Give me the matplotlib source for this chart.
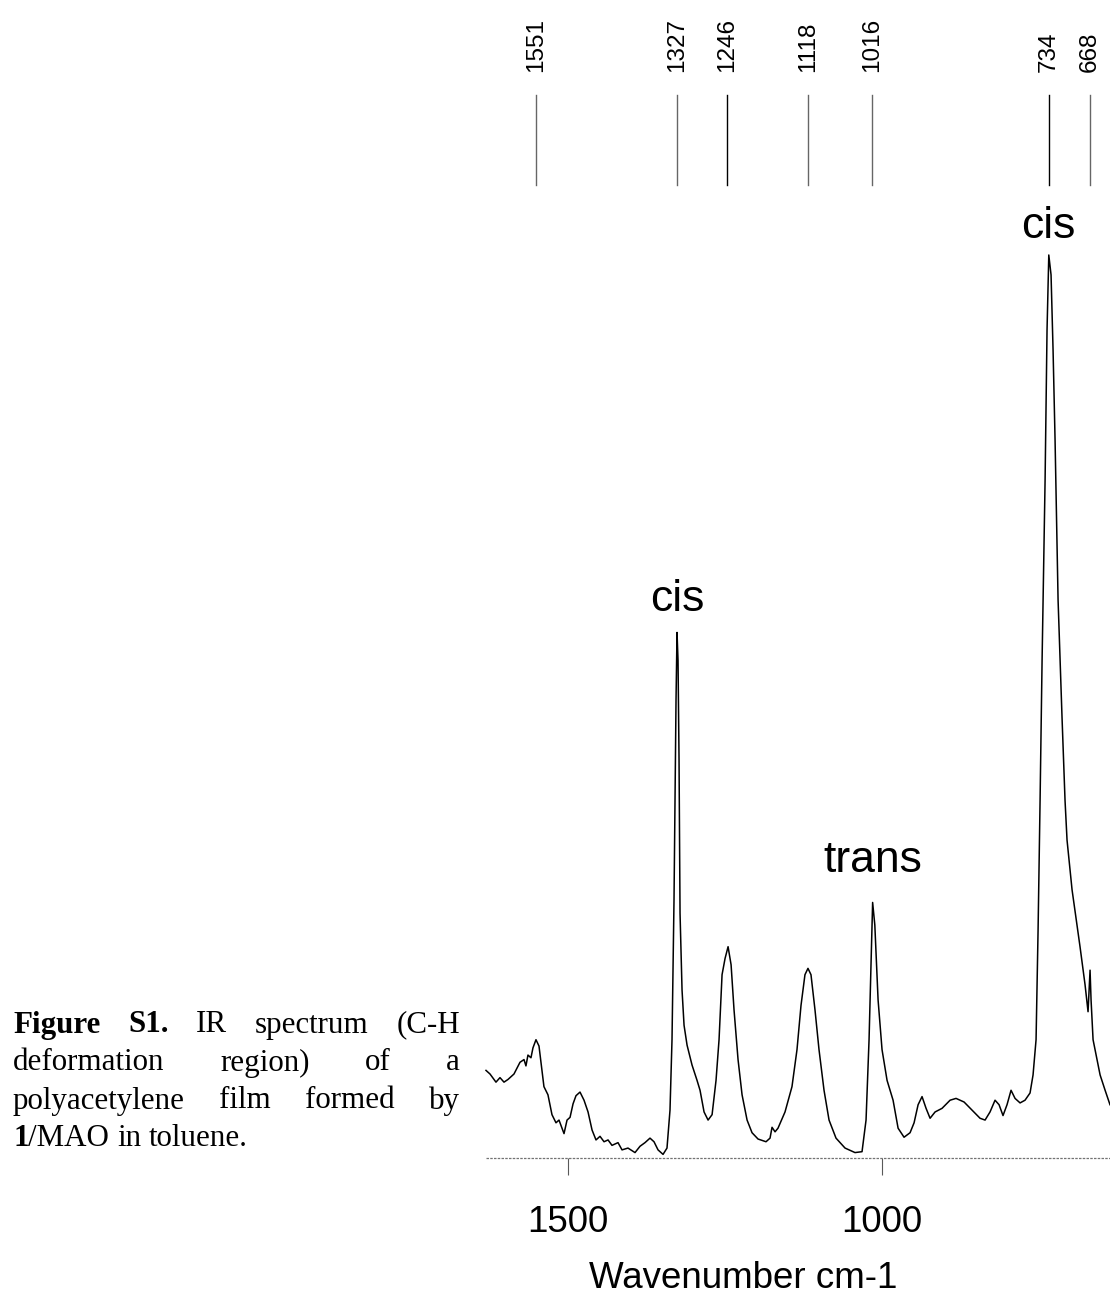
import matplotlib
matplotlib.use("Agg")
import matplotlib.pyplot as plt
import numpy as np

# ---- data ----
wavenumber = [1631.0, 1624.6, 1615.1, 1608.7, 1602.3, 1595.9, 1586.4, 1576.8, 1570.4, 1567.3,
              1564.1, 1559.3, 1556.1, 1551.3, 1546.5, 1541.7, 1538.6, 1532.2, 1525.8, 1519.4,
              1514.6, 1509.8, 1506.6, 1501.8, 1497.0, 1492.2, 1487.5, 1481.1, 1474.7, 1468.3,
              1461.9, 1455.6, 1449.2, 1442.8, 1436.4, 1430.1, 1420.5, 1414.1, 1404.6, 1393.4,
              1385.4, 1377.5, 1369.5, 1363.1, 1356.7, 1348.7, 1342.4, 1337.6, 1334.4, 1331.2,
              1328.0, 1326.4, 1324.8, 1323.2, 1321.6, 1318.4, 1315.2, 1310.4, 1302.5, 1294.5,
              1289.7, 1283.3, 1276.9, 1270.5, 1264.2, 1259.4, 1254.6, 1249.8, 1245.0, 1240.2,
              1235.5, 1229.1, 1222.7, 1214.7, 1206.8, 1197.2, 1184.5, 1178.1, 1174.9, 1170.1,
              1165.4, 1154.2, 1143.1, 1135.1, 1128.7, 1122.4, 1117.6, 1112.8, 1106.4, 1100.0,
              1092.0, 1084.0, 1072.9, 1058.5, 1042.6, 1031.4, 1025.0, 1020.2, 1017.0, 1014.5,
              1011.0, 1005.8, 999.5, 991.5, 986.7, 981.9, 973.9, 964.4, 954.8, 948.4,
              942.0, 935.7, 929.3, 922.9, 914.9, 903.8, 891.0, 881.5, 868.7, 856.0,
              843.2, 835.2, 827.3, 819.3, 812.9, 806.6, 800.2, 793.8, 787.4, 779.4,
              771.5, 763.5, 758.7, 753.9, 750.7, 747.5, 744.3, 739.5, 736.4, 733.6,
              730.0, 726.8, 723.6, 718.8, 712.5, 707.7, 704.5, 696.5, 683.8, 675.8,
              671.0, 667.8, 666.2, 663.0, 656.6, 651.8, 643.8, 636.0]
absorbance = [0.097, 0.093, 0.084, 0.089, 0.084, 0.087, 0.093, 0.106, 0.109, 0.102,
              0.114, 0.111, 0.122, 0.131, 0.124, 0.097, 0.079, 0.070, 0.048, 0.039,
              0.042, 0.033, 0.027, 0.042, 0.045, 0.060, 0.069, 0.073, 0.064, 0.051,
              0.031, 0.020, 0.024, 0.018, 0.020, 0.014, 0.017, 0.009, 0.011, 0.006,
              0.013, 0.017, 0.022, 0.018, 0.009, 0.004, 0.011, 0.053, 0.131, 0.286,
              0.507, 0.582, 0.551, 0.441, 0.271, 0.186, 0.147, 0.125, 0.103, 0.086,
              0.075, 0.051, 0.042, 0.048, 0.086, 0.131, 0.203, 0.221, 0.234, 0.214,
              0.164, 0.109, 0.070, 0.042, 0.028, 0.021, 0.018, 0.022, 0.034, 0.029,
              0.033, 0.051, 0.079, 0.120, 0.169, 0.203, 0.210, 0.203, 0.164, 0.120,
              0.075, 0.042, 0.022, 0.011, 0.006, 0.007, 0.042, 0.131, 0.219, 0.283,
              0.258, 0.175, 0.120, 0.086, 0.075, 0.064, 0.033, 0.023, 0.028, 0.039,
              0.059, 0.068, 0.055, 0.044, 0.051, 0.055, 0.064, 0.066, 0.062, 0.053,
              0.044, 0.042, 0.051, 0.064, 0.059, 0.047, 0.059, 0.075, 0.066, 0.061,
              0.064, 0.072, 0.092, 0.131, 0.252, 0.396, 0.551, 0.751, 0.917, 1.000,
              0.978, 0.895, 0.795, 0.618, 0.488, 0.396, 0.352, 0.297, 0.234, 0.192,
              0.162, 0.208, 0.175, 0.131, 0.109, 0.092, 0.075, 0.059]

peak_marks = [1551, 1327, 1246, 1118, 1016, 734, 668]
peak_labels = ["cis", "cis", "trans"]
peak_label_x = [733.6, 1326.4, 1014.5]
peak_label_y = [1.032, 0.618, 0.330]
xticks = [1500, 1000]
xtick_labels = ["1500", "1000"]
x_range = (1631, 636)

caption_lines = [
    [("Figure", True, True), ("S1.", True, True), ("IR", False, True), ("spectrum", False, True), ("(C-H", False, True)],
    [("deformation", False, True), ("region)", False, True), ("of", False, True), ("a", False, True)],
    [("polyacetylene", False, True), ("film", False, True), ("formed", False, True), ("by", False, True)],
    [("1", True, False), ("/MAO", False, True), ("in", False, True), ("toluene.", False, True)],
]

# ---- figure ----
W, H = 1110, 1297
fig = plt.figure(figsize=(W / 100, H / 100), dpi=100)
fig.patch.set_facecolor("white")

ax_left, ax_right, ax_bot, ax_top = 486, 1110, 1158, 200
ax = fig.add_axes([ax_left / W, 1 - ax_bot / H, (ax_right - ax_left) / W, (ax_bot - ax_top) / H])
ax.set_facecolor("none")
ax.plot(wavenumber, absorbance, color="black", lw=1.1, clip_on=False)
ax.set_xlim(*x_range)
ax.set_ylim(0, (ax_bot - ax_top) / 903.0)
for s in ax.spines.values():
    s.set_visible(False)
ax.axhline(0, color="0.45", lw=0.9, ls=(0, (2, 1)), clip_on=False)
ax.set_yticks([])
ax.set_xticks(xticks)
ax.set_xticklabels(xtick_labels, family="Liberation Sans", fontsize=26.5)
ax.tick_params(axis="x", direction="out", length=12, width=0.8, color="0.35", pad=22)
ax.set_xlabel("Wavenumber cm-1", family="Liberation Sans", fontsize=26.5, labelpad=20)
ax.xaxis.set_label_coords((743 - ax_left) / (ax_right - ax_left), -(1278 - ax_bot) / (ax_bot - ax_top))
ax.xaxis.label.set_va("center")

# peak labels (cis / trans)
for lab, xv, yv in zip(peak_labels, peak_label_x, peak_label_y):
    ax.text(xv, yv, lab, family="Liberation Sans", fontsize=32, ha="center", va="center", clip_on=False)

# top wavenumber marks
trans = ax.get_xaxis_transform()
hpx = ax_bot - ax_top
for i, wv in enumerate(peak_marks):
    col = "black" if wv in (1246, 734) else "0.4"
    ax.plot([wv, wv], [(ax_bot - 95) / hpx, (ax_bot - 185) / hpx], transform=trans,
            color=col, lw=1.0, clip_on=False)
    ax.text(wv, (ax_bot - 72) / hpx, str(wv), transform=trans, rotation=90,
            ha="center", va="bottom", family="Liberation Sans", fontsize=17.5, clip_on=False)

# caption (justified)
fig.canvas.draw()
renderer = fig.canvas.get_renderer()
L, R = 13, 460
line_y = [1025, 1063, 1101, 1139]
for li, (words, ypx) in enumerate(zip(caption_lines, line_y)):
    texts = []
    for w, bold, _ in words:
        t = fig.text(0, 0, w, family="Liberation Serif", fontsize=22.3,
                     fontweight="bold" if bold else "normal", ha="left", va="center")
        texts.append(t)
    widths = [t.get_window_extent(renderer).width for t in texts]
    space_t = fig.text(0, 0, "a a", family="Liberation Serif", fontsize=22.3)
    aa = fig.text(0, 0, "aa", family="Liberation Serif", fontsize=22.3)
    sp = space_t.get_window_extent(renderer).width - aa.get_window_extent(renderer).width
    space_t.remove(); aa.remove()
    justify = li < len(caption_lines) - 1
    if justify:
        gap = (R - L - sum(widths)) / (len(words) - 1)
    else:
        gap = sp
    x = L
    for t, wdt, (w, bold, sp_after) in zip(texts, widths, words):
        t.set_position((x / W, 1 - ypx / H))
        x += wdt + (gap if sp_after else 0)

fig.savefig("out.png", dpi=100, facecolor="white")
